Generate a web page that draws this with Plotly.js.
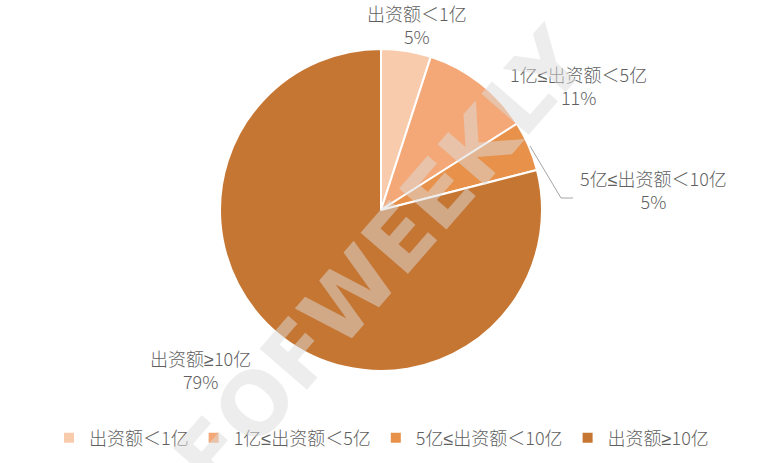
<!DOCTYPE html>
<html>
<head>
<meta charset="utf-8">
<script src="https://cdn.plot.ly/plotly-3.0.1.min.js"></script>
<style>
  html, body { margin: 0; padding: 0; background: #ffffff; }
  #chart { width: 763px; height: 463px; }
</style>
</head>
<body>
<div id="chart"></div>
<script>
// Share of funds by committed capital bracket
const categories = ['出资额＜1亿', '1亿≤出资额＜5亿', '5亿≤出资额＜10亿', '出资额≥10亿'];
const shares = [5, 11, 5, 79];
const sliceColors = ['#F8CBAD', '#F4A877', '#E8914A', '#C67633'];

const W = 763, H = 463;
const cx = 381, cy = 210, R = 161;

// outside label anchors (pixel centres of the two-line labels)
const labelPos = [
  { x: 417, y: 25 },
  { x: 578, y: 86 },
  { x: 653, y: 189 },
  { x: 200, y: 369 }
];

const textColor = '#5f5f5f';
const cjkFont = '"Noto Sans CJK SC", sans-serif';

// the CJK face draws ≤ / ≥ full width; set them in a narrow Latin face
const styled = s => s.replace(/([≤≥])/g, '<span style="font-family:\'Liberation Sans\'">$1</span>');
const displayLabels = categories.map(styled);

const trace = {
  type: 'pie',
  labels: displayLabels,
  values: shares,
  sort: false,
  direction: 'clockwise',
  rotation: 0,
  textinfo: 'none',
  hoverinfo: 'label+percent',
  marker: { colors: sliceColors, line: { color: '#ffffff', width: 2 } },
  domain: {
    x: [(cx - R) / W, (cx + R) / W],
    y: [1 - (cy + R) / H, 1 - (cy - R) / H]
  }
};

const annotations = displayLabels.map((c, i) => ({
  xref: 'paper', yref: 'paper',
  x: labelPos[i].x / W, y: 1 - labelPos[i].y / H,
  xanchor: 'center', yanchor: 'middle',
  text: c + '<br>' + shares[i] + '%',
  showarrow: false,
  align: 'center',
  font: { family: cjkFont, size: 18, color: textColor, weight: 300 }
}));

// faint diagonal watermark
annotations.push({
  xref: 'paper', yref: 'paper',
  x: 381 / W, y: 1 - 259 / H,
  xanchor: 'center', yanchor: 'middle',
  text: 'FOFWEEKLY',
  textangle: -49,
  showarrow: false,
  font: { family: '"DejaVu Sans", sans-serif', size: 86, color: 'rgba(219,219,219,0.5)', weight: 'bold' }
});

// leader line for the small third slice
const shapes = [{
  type: 'path',
  xref: 'paper', yref: 'paper',
  path: 'M ' + (530 / W) + ',' + (1 - 146 / H) + ' L ' + (561 / W) + ',' + (1 - 198 / H) + ' L ' + (573 / W) + ',' + (1 - 198 / H),
  line: { color: '#A6A6A6', width: 1 }
}];

const layout = {
  width: W, height: H,
  margin: { l: 0, r: 0, t: 0, b: 0 },
  paper_bgcolor: '#ffffff',
  showlegend: true,
  legend: {
    orientation: 'h',
    x: 0.5, xanchor: 'center',
    y: 1 - 438 / H, yanchor: 'middle',
    font: { family: cjkFont, size: 18, color: textColor, weight: 300 },
    traceorder: 'normal',
    itemwidth: 30
  },
  annotations: annotations,
  shapes: shapes
};

Plotly.newPlot('chart', [trace], layout, { displayModeBar: false, staticPlot: true });
</script>
</body>
</html>
